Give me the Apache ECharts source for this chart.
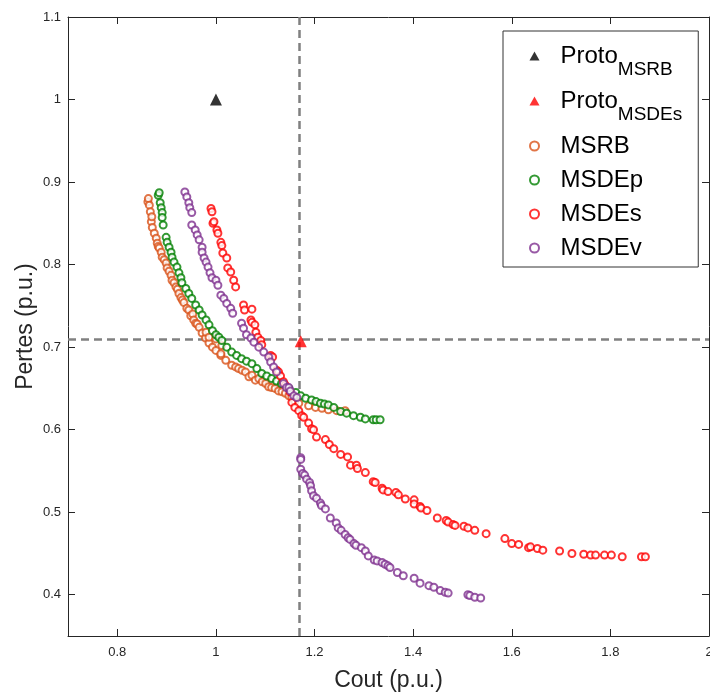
<!DOCTYPE html>
<html><head><meta charset="utf-8">
<script src="https://cdn.jsdelivr.net/npm/echarts@6/dist/echarts.min.js"></script>
<style>html,body{margin:0;padding:0;background:#fff;overflow:hidden}#c{width:710px;height:693px}</style>
</head><body><div id="c"></div>
<script>
// ---- ticks ----
const xTicks = [0.8, 1, 1.2, 1.4, 1.6, 1.8, 2];
const yTicks = [0.4, 0.5, 0.6, 0.7, 0.8, 0.9, 1, 1.1];

// ---- prototypes ----
const protoMSRB = [1.0, 1.0];
const protoMSDEs = [1.172, 0.707];

// ---- MSRB ----
const msrbX = [0.862,0.863,0.865,0.867,0.869,0.870,0.871,0.875,0.879,0.881,0.883,0.885,0.889,0.891,0.895,0.899,0.901,0.905,0.909,0.911,0.915,0.919,0.922,0.925,0.929,0.932,0.935,0.941,0.945,0.949,0.953,0.955,0.959,0.962,0.966,0.972,0.979,0.980,0.986,0.986,0.993,1.000,1.000,1.010,1.010,1.012,1.020,1.032,1.040,1.046,1.053,1.060,1.067,1.073,1.080,1.087,1.094,1.101,1.107,1.113,1.120,1.127,1.134,1.141,1.148,1.154,1.160,1.168,1.188,1.202,1.215,1.228,1.245,1.262];
const msrbY = [0.876,0.880,0.872,0.864,0.852,0.858,0.845,0.838,0.832,0.826,0.822,0.820,0.815,0.809,0.806,0.802,0.796,0.792,0.787,0.781,0.778,0.773,0.770,0.765,0.760,0.757,0.754,0.747,0.745,0.738,0.740,0.733,0.729,0.728,0.724,0.717,0.711,0.718,0.705,0.712,0.700,0.696,0.710,0.690,0.692,0.702,0.684,0.678,0.676,0.674,0.672,0.670,0.664,0.666,0.660,0.662,0.658,0.656,0.652,0.651,0.650,0.647,0.646,0.644,0.641,0.639,0.634,0.632,0.629,0.627,0.626,0.624,0.623,0.623];

// ---- MSDEp ----
const msdepX = [0.883,0.885,0.887,0.889,0.891,0.891,0.893,0.899,0.901,0.905,0.909,0.911,0.915,0.921,0.925,0.929,0.931,0.939,0.945,0.951,0.959,0.966,0.972,0.980,0.986,0.993,1.000,1.006,1.012,1.022,1.032,1.042,1.052,1.062,1.073,1.083,1.093,1.103,1.113,1.123,1.133,1.148,1.162,1.172,1.182,1.194,1.203,1.212,1.220,1.228,1.239,1.253,1.265,1.279,1.293,1.303,1.319,1.325,1.333];
const msdepY = [0.884,0.887,0.875,0.869,0.863,0.857,0.848,0.833,0.827,0.821,0.815,0.809,0.803,0.797,0.790,0.784,0.778,0.771,0.765,0.759,0.751,0.745,0.739,0.733,0.727,0.720,0.715,0.712,0.708,0.700,0.694,0.690,0.686,0.683,0.680,0.674,0.668,0.665,0.662,0.659,0.656,0.650,0.645,0.641,0.638,0.636,0.634,0.632,0.631,0.630,0.627,0.622,0.620,0.617,0.615,0.613,0.612,0.612,0.612];

// ---- MSDEs ----
const msdesX = [0.990,0.992,0.994,0.996,1.002,1.004,1.010,1.012,1.014,1.022,1.024,1.030,1.036,1.040,1.056,1.058,1.073,1.071,1.073,1.079,1.081,1.085,1.091,1.093,1.111,1.115,1.123,1.127,1.131,1.137,1.141,1.150,1.154,1.160,1.168,1.174,1.178,1.188,1.194,1.198,1.204,1.222,1.230,1.239,1.253,1.267,1.273,1.285,1.287,1.303,1.319,1.323,1.337,1.339,1.349,1.365,1.370,1.384,1.402,1.402,1.414,1.416,1.428,1.449,1.467,1.471,1.481,1.485,1.503,1.511,1.525,1.548,1.586,1.600,1.614,1.634,1.638,1.652,1.663,1.697,1.722,1.746,1.760,1.770,1.788,1.802,1.824,1.863,1.871];
const msdesY = [0.868,0.864,0.850,0.852,0.842,0.838,0.827,0.823,0.814,0.808,0.796,0.791,0.781,0.773,0.751,0.745,0.746,0.733,0.730,0.727,0.718,0.712,0.708,0.703,0.690,0.688,0.672,0.670,0.665,0.658,0.654,0.646,0.633,0.627,0.623,0.617,0.615,0.608,0.601,0.600,0.591,0.588,0.582,0.577,0.570,0.567,0.557,0.557,0.553,0.548,0.537,0.536,0.529,0.527,0.525,0.524,0.521,0.516,0.515,0.510,0.507,0.505,0.502,0.493,0.490,0.488,0.485,0.484,0.483,0.481,0.478,0.474,0.468,0.462,0.461,0.457,0.458,0.456,0.454,0.453,0.450,0.449,0.448,0.448,0.448,0.448,0.446,0.446,0.446];

// ---- MSDEv ----
const msdevX = [0.937,0.941,0.945,0.947,0.951,0.951,0.958,0.962,0.966,0.972,0.972,0.976,0.980,0.984,0.988,0.992,1.000,1.004,1.010,1.016,1.022,1.030,1.034,1.052,1.056,1.062,1.071,1.077,1.087,1.097,1.107,1.111,1.117,1.123,1.137,1.143,1.148,1.151,1.158,1.164,
  1.172,1.172,1.172,1.176,1.180,1.184,1.190,1.192,1.194,1.198,1.204,1.212,1.214,1.222,1.232,1.244,1.248,1.254,1.262,1.268,1.272,1.280,1.284,1.295,1.303,1.309,1.321,1.327,1.337,1.343,1.349,1.353,1.368,1.380,1.402,1.414,1.432,1.442,1.455,1.465,1.471,1.511,1.515,1.525,1.537];
const msdevY = [0.888,0.882,0.875,0.869,0.863,0.848,0.842,0.836,0.830,0.821,0.815,0.808,0.803,0.797,0.790,0.784,0.781,0.775,0.763,0.759,0.753,0.747,0.741,0.729,0.723,0.715,0.711,0.706,0.700,0.694,0.688,0.682,0.676,0.670,0.656,0.651,0.651,0.647,0.641,0.639,
  0.566,0.564,0.552,0.547,0.545,0.540,0.536,0.532,0.526,0.520,0.517,0.511,0.508,0.504,0.493,0.487,0.481,0.478,0.473,0.469,0.467,0.462,0.460,0.457,0.453,0.447,0.442,0.441,0.439,0.437,0.435,0.433,0.427,0.423,0.420,0.414,0.411,0.409,0.405,0.403,0.402,0.400,0.399,0.397,0.396];

const zip = (xs, ys) => xs.map((x, i) => [x, ys[i]]);

const FONT = '"Liberation Sans", Arial, Helvetica, sans-serif';
const AX = '#262626';
const TRI = 'path://M5,0L10,9L0,9Z';

const legendText = {
  'Proto_MSRB': '{a|Proto}{s|MSRB}',
  'Proto_MSDEs': '{a|Proto}{s|MSDEs}',
  'MSRB': '{p|MSRB}', 'MSDEp': '{p|MSDEp}', 'MSDEs': '{p|MSDEs}', 'MSDEv': '{p|MSDEv}'
};

function circles(name, xs, ys, color) {
  return {
    name, type: 'scatter', data: zip(xs, ys), symbol: 'emptyCircle', symbolSize: 7,
    itemStyle: { color: color, borderColor: color, borderWidth: 1 },
    emphasis: { disabled: true }, animation: false
  };
}

const chart = echarts.init(document.getElementById('c'), null, { renderer: 'canvas' });
chart.setOption({
  backgroundColor: '#fff',
  animation: false,
  textStyle: { fontFamily: FONT },
  grid: { left: 68, right: 1, top: 17, bottom: 57, containLabel: false, outerBoundsMode: 'none' },
  xAxis: [{
    type: 'value', min: 0.7, max: 2, position: 'bottom',
    name: 'Cout (p.u.)', nameLocation: 'middle', nameGap: 33, nameMoveOverlap: false,
    nameTextStyle: { fontSize: 23, color: AX, fontFamily: FONT },
    axisLine: { show: true, onZero: false, lineStyle: { color: AX, width: 1 } },
    axisTick: { show: true, inside: true, length: 7, customValues: xTicks, lineStyle: { color: AX } },
    axisLabel: { show: true, customValues: xTicks, fontSize: 13, color: AX, margin: 10, fontFamily: FONT },
    splitLine: { show: false }
  }, {
    type: 'value', min: 0.7, max: 2, position: 'top',
    axisLine: { show: true, onZero: false, lineStyle: { color: AX, width: 1 } },
    axisTick: { show: true, inside: true, length: 7, customValues: xTicks, lineStyle: { color: AX } },
    axisLabel: { show: false }, splitLine: { show: false }
  }],
  yAxis: [{
    type: 'value', min: 0.35, max: 1.1, position: 'left',
    name: 'Pertes (p.u.)', nameLocation: 'middle', nameGap: 31, nameMoveOverlap: false,
    nameTextStyle: { fontSize: 23, color: AX, fontFamily: FONT },
    axisLine: { show: true, onZero: false, lineStyle: { color: AX, width: 1 } },
    axisTick: { show: true, inside: true, length: 7, customValues: yTicks, lineStyle: { color: AX } },
    axisLabel: { show: true, customValues: yTicks, fontSize: 13, color: AX, margin: 7, fontFamily: FONT },
    splitLine: { show: false }
  }, {
    type: 'value', min: 0.35, max: 1.1, position: 'right',
    axisLine: { show: true, onZero: false, lineStyle: { color: AX, width: 1 } },
    axisTick: { show: true, inside: true, length: 7, customValues: yTicks, lineStyle: { color: AX } },
    axisLabel: { show: false }, splitLine: { show: false }
  }],
  legend: {
    orient: 'vertical', left: 503, top: 31,
    padding: [13, 16, 7, 26],
    itemGap: 10, itemWidth: 34, itemHeight: 9,
    symbolKeepAspect: true,
    backgroundColor: '#fff', borderColor: '#333', borderWidth: 1,
    data: [
      { name: 'Proto_MSRB', icon: TRI },
      { name: 'Proto_MSDEs', icon: TRI },
      'MSRB', 'MSDEp', 'MSDEs', 'MSDEv'
    ],
    formatter: n => legendText[n],
    selectedMode: false,
    textStyle: {
      color: '#000', fontFamily: FONT, fontSize: 24,
      rich: {
        a: { fontSize: 24, lineHeight: 31, color: '#000', fontFamily: FONT, padding: [0, 0, 0, 4] },
        s: { fontSize: 19, padding: [27, 0, 0, 0], color: '#000', fontFamily: FONT },
        p: { fontSize: 24, lineHeight: 31, color: '#000', fontFamily: FONT, padding: [0, 0, 0, 4] }
      }
    }
  },
  series: [
    {
      name: 'Proto_MSRB', type: 'scatter', data: [protoMSRB], symbol: 'triangle', symbolSize: 12,
      itemStyle: { color: '#000' }, emphasis: { disabled: true }, z: 3
    },
    {
      name: 'Proto_MSDEs', type: 'scatter', data: [protoMSDEs], symbol: 'triangle', symbolSize: 12,
      itemStyle: { color: '#ff0000' }, emphasis: { disabled: true }, z: 3,
      markLine: {
        silent: true, symbol: ['none', 'none'], animation: false, z: 1,
        label: { show: false },
        lineStyle: { color: '#808080', width: 2.5, type: [8, 5] },
        emphasis: { disabled: true },
        data: [{ xAxis: protoMSDEs[0] }, { yAxis: protoMSDEs[1] }]
      }
    },
    circles('MSRB', msrbX, msrbY, '#D95319'),
    circles('MSDEp', msdepX, msdepY, '#008000'),
    circles('MSDEs', msdesX, msdesY, '#FF0000'),
    circles('MSDEv', msdevX, msdevY, '#7E2F8E')
  ]
});
</script></body></html>
